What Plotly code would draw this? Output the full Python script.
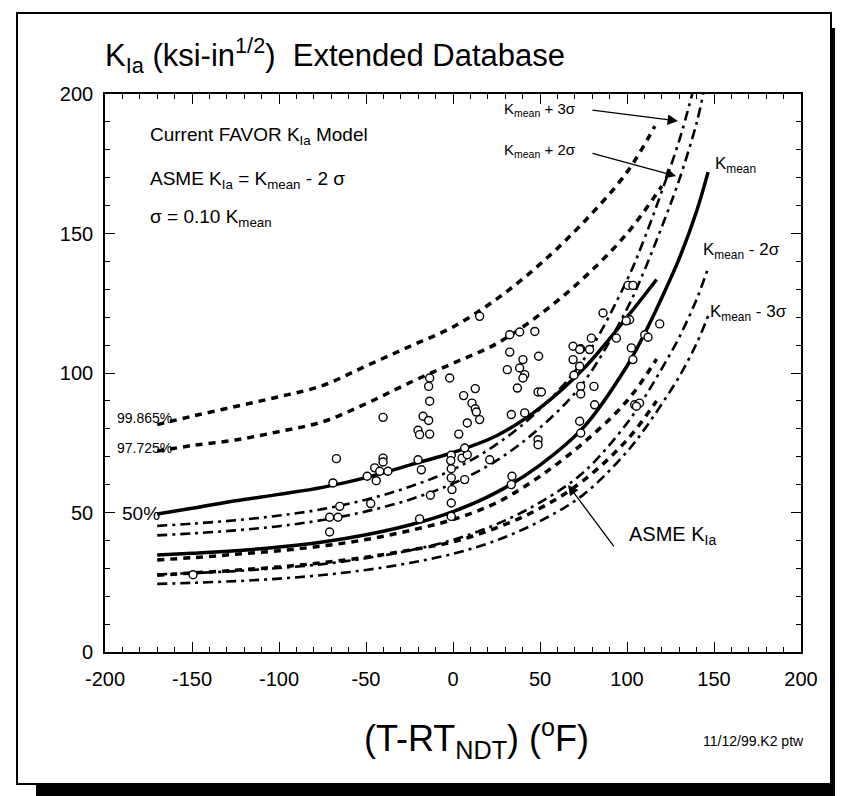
import plotly.graph_objects as go

# ---------------- data ----------------
T_pct = [-170, -150, -125, -100, -75, -50, -25, 0, 25, 50, 75, 100, 117]
p50 = [49.5, 51.5, 54.2, 56.5, 59.0, 62.5, 67.0, 71.5, 77.5, 87.5, 101.5, 120.0, 133.5]
p2275 = [33.0, 33.8, 35.0, 36.3, 38.0, 40.3, 43.5, 47.5, 53.5, 63.0, 75.0, 90.0, 105.0]
p0135 = [27.5, 28.3, 29.3, 30.5, 32.0, 34.0, 36.5, 39.5, 44.5, 51.5, 61.5, 76.0, 90.0]

T_p99 = [-170, -150, -125, -100, -75, -50, -25, 0, 25, 50, 75, 100, 116]
p99865 = [81.5, 84.5, 88.0, 91.5, 95.5, 102.5, 109.5, 116.5, 126.5, 139.0, 154.0, 172.0, 188.5]

T_p97 = [-170, -150, -125, -100, -75, -50, -25, 0, 25, 50, 75, 100, 120]
p97725 = [72.0, 74.0, 76.0, 79.0, 82.5, 89.0, 96.5, 103.5, 110.5, 121.0, 134.0, 150.0, 167.0]

T_fav = [-170, -150, -125, -100, -75, -50, -25, 0, 25, 50, 75, 100, 110, 120, 130, 140, 146.6]
k_mean = [34.8, 35.4, 36.3, 37.6, 39.4, 42.0, 45.5, 50.3, 57.2, 67.0, 80.5, 102.5, 114.0, 127.0, 141.0, 158.0, 172.0]
k_m2s = [27.8, 28.3, 29.0, 30.1, 31.5, 33.6, 36.4, 40.2, 45.8, 53.6, 64.4, 82.0, 91.2, 101.6, 112.8, 126.4, 137.6]
k_m3s = [24.4, 24.8, 25.4, 26.3, 27.6, 29.4, 31.9, 35.2, 40.0, 46.9, 56.4, 71.8, 79.8, 88.9, 98.7, 110.6, 120.4]

T_p3s = [-170, -150, -125, -100, -75, -50, -25, 0, 25, 50, 75, 100, 110, 120, 130, 137.5]
k_p3s = [45.2, 46.0, 47.2, 48.9, 51.2, 54.6, 59.2, 65.4, 74.4, 87.1, 104.7, 133.3, 148.2, 165.1, 183.3, 200.0]

T_p2s = [-170, -150, -125, -100, -75, -50, -25, 0, 25, 50, 75, 100, 110, 120, 130, 140, 143.8]
k_p2s = [41.8, 42.5, 43.6, 45.1, 47.3, 50.4, 54.6, 60.4, 68.6, 80.4, 96.6, 123.0, 136.8, 152.4, 169.2, 189.6, 200.0]

data_T = [15.3, 32.6, 38.3, 47.0, 32.6, 40.2, 49.2, 38.3, 31.2, 41.2, 40.2, 37.0, 48.9, 50.8,
          -1.9, -13.4, -14.0, -13.4, 12.8, 6.1, 10.9, 12.8, 13.4, 15.3, 8.2, 3.3, -40.2, -17.2,
          -14.0, -20.1, -13.4, -19.2, 33.5, 41.2, 48.9, 48.9, -67.0, -40.2, -40.2, -45.0, -42.1,
          -37.4, -49.3, -44.1, -69.0, -20.1, -18.2, -1.0, -1.3, 5.2, 8.2, 6.7, 21.1, -1.0, -1.0,
          -0.6, 6.7, 33.9, 33.5, -13.0, -1.0, -47.3, -65.1, -70.9, -66.1, -70.9, -19.2, -1.0,
          -149.4, 86.2, 69.0, 73.4, 79.5, 78.5, 69.0, 72.8, 69.5, 73.4, 81.0, 73.4, 81.4, 72.8,
          73.4, 93.9, 101.5, 102.5, 103.4, 100.6, 103.4, 104.4, 99.6, 118.8, 110.2, 112.1, 107.2,
          105.4, 72.8]
data_K = [120.3, 113.7, 114.7, 114.9, 107.5, 104.8, 106.0, 101.8, 101.2, 99.4, 98.2, 94.6, 93.2, 93.2,
          98.2, 98.2, 95.2, 89.9, 94.4, 91.9, 89.2, 87.2, 86.0, 83.3, 82.1, 78.1, 84.1, 84.5,
          83.0, 79.5, 78.1, 77.9, 85.1, 85.7, 76.1, 74.3, 69.3, 69.5, 68.1, 66.0, 64.8,
          64.8, 63.0, 61.4, 60.6, 68.9, 65.3, 70.5, 68.6, 69.5, 70.7, 73.1, 68.9, 65.7, 62.4,
          58.2, 61.8, 63.0, 60.0, 56.2, 53.4, 53.2, 52.2, 48.3, 48.3, 43.0, 47.7, 48.6,
          27.7, 121.5, 109.6, 108.7, 112.5, 108.4, 104.8, 102.4, 99.2, 95.2, 95.2, 92.5, 88.6, 82.7,
          78.5, 112.5, 119.1, 109.0, 104.8, 131.4, 131.4, 88.6, 118.7, 117.6, 113.7, 112.8, 89.2,
          88.1, 108.4]

x_ticks = [-200, -150, -100, -50, 0, 50, 100, 150, 200]
y_ticks = [0, 50, 100, 150, 200]

# ---------------- figure ----------------
W, H = 843, 796
L, R, T, B = 97, 793, 86, 644  # plot area in pixels
FONT = "Arial, Liberation Sans, sans-serif"


def px(xp):
    return (xp - L) / (R - L)


def py(yp):
    return (B - yp) / (B - T)


fig = go.Figure()

pct_style = dict(color="black", width=3.5, dash="7px,6px")
fav_style = dict(color="black", width=2.6, dash="10px,5px,3px,5px")
solid_style = dict(color="black", width=3.5)

fig.add_trace(go.Scatter(x=T_p99, y=p99865, mode="lines", line=pct_style, line_shape="spline"))
fig.add_trace(go.Scatter(x=T_p97, y=p97725, mode="lines", line=pct_style, line_shape="spline"))
fig.add_trace(go.Scatter(x=T_pct, y=p50, mode="lines", line=solid_style, line_shape="spline"))
fig.add_trace(go.Scatter(x=T_pct, y=p2275, mode="lines", line=pct_style, line_shape="spline"))
fig.add_trace(go.Scatter(x=T_pct, y=p0135, mode="lines", line=pct_style, line_shape="spline"))

fig.add_trace(go.Scatter(x=T_p3s, y=k_p3s, mode="lines", line=fav_style, line_shape="spline"))
fig.add_trace(go.Scatter(x=T_p2s, y=k_p2s, mode="lines", line=fav_style, line_shape="spline"))
fig.add_trace(go.Scatter(x=T_fav, y=k_mean, mode="lines", line=solid_style, line_shape="spline"))
fig.add_trace(go.Scatter(x=T_fav, y=k_m2s, mode="lines", line=fav_style, line_shape="spline"))
fig.add_trace(go.Scatter(x=T_fav, y=k_m3s, mode="lines", line=fav_style, line_shape="spline"))

fig.add_trace(go.Scatter(x=data_T, y=data_K, mode="markers",
                         marker=dict(symbol="circle", size=8, color="white",
                                     line=dict(color="black", width=1.4))))

axis_common = dict(showline=True, linecolor="black", linewidth=1.6, mirror="ticks",
                   ticks="inside", ticklen=10, tickwidth=1.3, tickcolor="black",
                   showgrid=False, zeroline=False,
                   tickfont=dict(family=FONT, size=20, color="black"),
                   minor=dict(dtick=10, ticks="inside", ticklen=5, tickwidth=1.1,
                              tickcolor="black", showgrid=False))

fig.update_xaxes(range=[-200, 200], tickvals=x_ticks, ticktext=[str(v) for v in x_ticks],
                 ticklabelstandoff=8, **axis_common)
fig.update_yaxes(range=[0, 200], tickvals=y_ticks, ticktext=[str(v) for v in y_ticks],
                 ticklabelstandoff=6, **axis_common)

ann = []


def txt(x, y, s, size, xanchor="left", yanchor="middle", xref="x", yref="y"):
    ann.append(dict(x=x, y=y, xref=xref, yref=yref, text=s, showarrow=False,
                    xanchor=xanchor, yanchor=yanchor,
                    font=dict(family=FONT, size=size, color="black")))


# title and axis title (paper coordinates)
txt(px(95), py(47), "K<sub>Ia</sub> (ksi-in<sup>1/2</sup>)  Extended Database", 31,
    xref="paper", yref="paper")
txt(px(468), py(730), "(T-RT<sub>NDT</sub>) (<sup>o</sup>F)", 36, xanchor="center",
    xref="paper", yref="paper")
txt(px(693), py(733), "11/12/99.K2 ptw", 14, xref="paper", yref="paper")

# inset text
txt(-175.3, 185.0, "Current FAVOR K<sub>Ia</sub> Model", 19)
txt(-175.3, 169.2, "ASME K<sub>Ia</sub> = K<sub>mean</sub> - 2 σ", 19)
txt(-175.3, 155.6, "σ = 0.10 K<sub>mean</sub>", 19)

# percentile labels
txt(-194.3, 83.9, "99.865%", 14)
txt(-194.3, 73.1, "97.725%", 14)
txt(-191.4, 49.8, "50%", 19)
txt(-201.0, 33.7, "2.275%", 14)
txt(-201.0, 26.5, "0.135%", 14)

# right labels
txt(71.8, 194.6, "K<sub>mean</sub> + 3σ", 15, xanchor="right")
txt(71.8, 179.6, "K<sub>mean</sub> + 2σ", 15, xanchor="right")
txt(149.4, 174.6, "K<sub>mean</sub>", 17)
txt(142.5, 143.7, "K<sub>mean</sub> - 2σ", 17)
txt(146.6, 121.5, "K<sub>mean</sub> - 3σ", 17)
txt(126.4, 41.6, "ASME K<sub>Ia</sub>", 20, xanchor="center")

# arrows
for (tx, ty, hx, hy) in [(79.3, 194.3, 129.3, 190.3), (79.3, 178.9, 128.2, 170.6),
                         (93.1, 37.3, 66.1, 59.9)]:
    ann.append(dict(x=hx, y=hy, ax=tx, ay=ty, xref="x", yref="y", axref="x", ayref="y",
                    text="", showarrow=True, arrowhead=2, arrowsize=1.6, arrowwidth=1.3,
                    arrowcolor="black"))

shapes = [
    # page frame
    dict(type="rect", xref="paper", yref="paper", x0=px(9), x1=px(823), y0=py(776), y1=py(5),
         line=dict(color="black", width=2), fillcolor="rgba(0,0,0,0)", layer="below"),
    # shadow right
    dict(type="rect", xref="paper", yref="paper", x0=px(823), x1=px(845), y0=py(791), y1=py(20),
         line=dict(width=0), fillcolor="black"),
    # shadow bottom
    dict(type="rect", xref="paper", yref="paper", x0=px(28), x1=px(845), y0=py(791), y1=py(776),
         line=dict(width=0), fillcolor="black"),
]

fig.update_layout(width=W, height=H, autosize=False,
                  margin=dict(l=L, r=W - R, t=T, b=H - B, pad=0),
                  paper_bgcolor="white", plot_bgcolor="white",
                  showlegend=False, annotations=ann, shapes=shapes,
                  font=dict(family=FONT, color="black"))

fig.write_html("out.html")
